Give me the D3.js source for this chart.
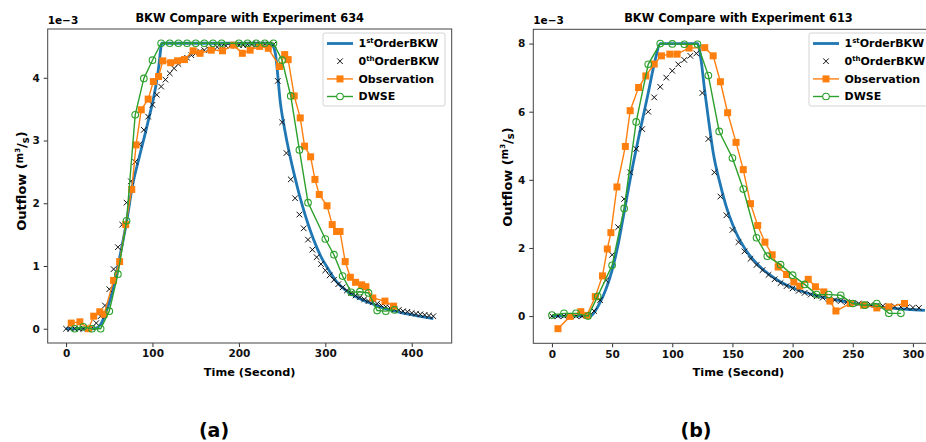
<!DOCTYPE html>
<meta charset="utf-8" />
<style>
  body { margin: 0; background: #fff; }
  text { font-family: "DejaVu Sans", sans-serif; font-weight: bold; }
</style>
<svg width="926" height="442"></svg>
<script src="https://d3js.org/d3.v7.min.js"></script>
<script>
// ---- data (outflow in 1e-3 m^3/s, time in seconds) ----
// (a) experiment 634
var bkw1A_t = [0, 30, 35, 40, 45, 50, 55, 60, 65, 70, 77, 85, 94, 104, 107, 111, 237, 242, 248, 254, 260, 266, 271, 277, 283, 290, 296, 303, 313, 322, 333, 343, 352, 365, 378, 390, 405, 425];
var bkw1A_q = [0, 0, 0.01, 0.07, 0.22, 0.42, 0.68, 1.0, 1.34, 1.7, 2.29, 2.75, 3.25, 3.88, 4.15, 4.55, 4.55, 4.4, 3.6, 3.1, 2.7, 2.35, 2.08, 1.8, 1.55, 1.3, 1.12, 0.96, 0.75, 0.63, 0.53, 0.46, 0.41, 0.34, 0.29, 0.25, 0.21, 0.16];

var bkw0A_t = [0, 5, 10, 15, 20, 25, 30, 35, 40, 45, 50, 55, 60, 65, 70, 75, 80, 85, 90, 95,
  100, 105, 110, 115, 120, 125, 130, 135, 140, 145, 150, 155, 160, 165, 170, 175, 180, 185, 190, 195,
  200, 205, 210, 215, 220, 225, 230, 235, 240, 245, 250, 255, 260, 265, 270, 275, 280, 285, 290, 295,
  300, 305, 310, 315, 320, 325, 330, 335, 340, 345, 350, 355, 360, 365, 370, 375, 380, 385, 390, 395,
  400, 405, 410, 415, 420, 425];
var bkw0A_q = [0, 0, 0, 0, 0, 0, 0.02, 0.09, 0.2, 0.37, 0.63, 0.95, 1.3, 1.66, 2.01, 2.35, 2.66, 2.94, 3.17, 3.38,
  3.57, 3.73, 3.86, 3.97, 4.07, 4.15, 4.22, 4.28, 4.32, 4.36, 4.39, 4.42, 4.44, 4.46, 4.48, 4.49, 4.5, 4.51, 4.51, 4.52,
  4.52, 4.52, 4.53, 4.53, 4.53, 4.53, 4.53, 4.53, 4.53, 3.95, 3.29, 2.8, 2.38, 2.08, 1.82, 1.6, 1.42, 1.26, 1.14, 1.03,
  0.93, 0.85, 0.78, 0.71, 0.66, 0.61, 0.57, 0.53, 0.5, 0.47, 0.44, 0.42, 0.4, 0.37, 0.35, 0.33, 0.31, 0.3, 0.28, 0.27,
  0.25, 0.24, 0.23, 0.22, 0.21, 0.2];

var obsA_t = [6, 16, 26, 32, 39, 44, 55, 62, 69, 76, 81, 87, 95, 101, 107, 112, 121, 129, 137, 147, 155, 168, 181, 194, 204, 213, 224, 234, 247, 253, 257, 264, 271, 276, 283, 288, 293, 302, 308, 313, 317, 323, 329, 335, 342, 347, 355, 369, 379];
var obsA_q = [0.09, 0.11, 0.0, 0.2, 0.27, 0.23, 0.77, 1.07, 1.66, 2.22, 2.93, 3.49, 3.66, 3.94, 4.02, 4.27, 4.24, 4.27, 4.29, 4.43, 4.39, 4.44, 4.43, 4.52, 4.39, 4.44, 4.5, 4.47, 4.18, 4.37, 4.29, 3.71, 3.36, 2.91, 2.74, 2.38, 2.14, 1.96, 1.66, 1.55, 1.55, 1.07, 0.82, 0.74, 0.70, 0.67, 0.49, 0.44, 0.36];

var dwseA_t = [10, 20, 30, 40, 50, 60, 70, 80, 90, 100, 110, 120, 130, 140, 150, 160, 170, 180, 200, 210, 220, 230, 240, 250, 260, 270, 280, 300, 310, 320, 330, 340, 350, 360, 370, 380];
var dwseA_q = [0, 0.03, 0, 0, 0.28, 0.87, 1.72, 3.41, 3.99, 4.28, 4.55, 4.55, 4.55, 4.55, 4.55, 4.55, 4.55, 4.55, 4.55, 4.55, 4.55, 4.55, 4.55, 4.28, 3.71, 2.85, 2.01, 1.43, 1.18, 0.84, 0.58, 0.59, 0.57, 0.29, 0.28, 0.3];

// (b) experiment 613
var bkw1B_t = [0, 30, 33, 36, 40, 45, 50, 55, 60, 66, 73, 80, 86, 90, 121, 124, 127, 130, 134, 140, 145, 150, 155, 160, 165, 170, 175, 180, 190, 200, 210, 220, 235, 250, 265, 280, 295, 310];
var bkw1B_q = [0, 0, 0.02, 0.15, 0.4, 0.8, 1.35, 2.1, 3.05, 4.2, 5.4, 6.55, 7.55, 8.0, 8.0, 7.5, 6.6, 5.8, 4.8, 3.85, 3.2, 2.7, 2.3, 2.0, 1.75, 1.55, 1.38, 1.24, 1.0, 0.83, 0.7, 0.6, 0.48, 0.38, 0.3, 0.24, 0.2, 0.17];

var bkw0B_t = [0, 5, 10, 15, 20, 25, 30, 35, 40, 45, 50, 55, 60, 65, 70, 75, 80, 85, 90, 95,
  100, 105, 110, 115, 120, 125, 130, 135, 140, 145, 150, 155, 160, 165, 170, 175, 180, 185, 190, 195,
  200, 205, 210, 215, 220, 225, 230, 235, 240, 245, 250, 255, 260, 265, 270, 275, 280, 285, 290, 295,
  300, 305];
var bkw0B_q = [0, 0, 0, 0, 0, 0, 0.02, 0.15, 0.47, 1.05, 1.8, 2.61, 3.44, 4.22, 4.91, 5.49, 6.0, 6.42, 6.73, 7.0,
  7.2, 7.39, 7.52, 7.64, 7.71, 6.55, 5.2, 4.22, 3.51, 2.96, 2.53, 2.17, 1.9, 1.68, 1.5, 1.35, 1.21, 1.08, 0.97, 0.88,
  0.81, 0.74, 0.68, 0.63, 0.58, 0.54, 0.5, 0.47, 0.44, 0.41, 0.39, 0.37, 0.35, 0.33, 0.31, 0.3, 0.29, 0.28, 0.27, 0.26,
  0.25, 0.24];

var obsB_t = [5, 15, 24, 29, 36, 42, 46, 49, 54, 61, 65, 72, 78, 85, 91, 98, 104, 114, 127, 134, 140, 146, 153, 159, 165, 171, 177, 183, 188, 195, 201, 206, 213, 219, 226, 231, 236, 248, 259, 270, 280, 293];
var obsB_q = [-0.37, -0.01, 0.13, 0.02, 0.57, 1.18, 1.97, 2.45, 3.79, 4.98, 6.03, 6.71, 7.05, 7.4, 7.64, 7.69, 7.69, 7.87, 7.88, 7.64, 6.88, 5.97, 5.1, 4.3, 3.3, 2.66, 2.17, 1.8, 1.44, 1.22, 1.0, 0.88, 1.08, 0.86, 0.71, 0.44, 0.15, 0.37, 0.32, 0.24, 0.27, 0.37];

var dwseB_t = [0, 10, 20, 30, 38, 50, 60, 70, 80, 90, 100, 110, 121, 130, 139, 150, 159, 170, 179, 190, 200, 210, 220, 230, 240, 250, 260, 270, 280, 290];
var dwseB_q = [0.03, 0.08, 0.08, 0.0, 0.58, 1.49, 3.16, 5.7, 7.39, 8.0, 7.99, 7.98, 7.98, 7.06, 5.42, 4.64, 3.73, 2.3, 1.76, 1.51, 1.2, 0.93, 0.63, 0.63, 0.61, 0.37, 0.32, 0.37, 0.08, 0.08];

var xTicksA = [0, 100, 200, 300, 400];
var yTicksA = [0, 1, 2, 3, 4];
var xTicksB = [0, 50, 100, 150, 200, 250, 300];
var yTicksB = [0, 2, 4, 6, 8];

var titles = ["BKW Compare with Experiment 634", "BKW Compare with Experiment 613"];
var panelTags = ["(a)", "(b)"];

var BLUE = "#1f77b4", ORANGE = "#ff7f0e", GREEN = "#2ca02c";

var svg = d3.select("svg");

function zip(t, q) { return t.map(function (d, i) { return [d, q[i]]; }); }

function drawPanel(p) {
  var g = svg.append("g");
  var x = d3.scaleLinear().domain(p.xDomain).range([p.left, p.right]);
  var y = d3.scaleLinear().domain(p.yDomain).range([p.bottom, p.top]);

  var xa = g.append("g").attr("transform", "translate(0," + p.bottom + ")")
    .call(d3.axisBottom(x).tickValues(p.xTicks).tickFormat(d3.format("d"))
      .tickSize(4).tickPadding(3).tickSizeOuter(0));
  var ya = g.append("g").attr("transform", "translate(" + p.left + ",0)")
    .call(d3.axisLeft(y).tickValues(p.yTicks).tickFormat(d3.format("d"))
      .tickSize(4).tickPadding(4).tickSizeOuter(0));
  [xa, ya].forEach(function (a) {
    a.select(".domain").remove();
    a.selectAll("line").attr("stroke", "#333");
    a.selectAll("text").attr("font-size", 10.5).attr("fill", "#111")
      .attr("font-family", "DejaVu Sans").attr("font-weight", "bold");
  });

  // frame
  g.append("rect").attr("x", p.left).attr("y", p.top)
    .attr("width", p.right - p.left).attr("height", p.bottom - p.top)
    .attr("fill", "none").attr("stroke", "#444").attr("stroke-width", 1);

  var line = d3.line().x(function (d) { return x(d[0]); }).y(function (d) { return y(d[1]); });

  // 1st order BKW
  g.append("path").datum(zip(p.bkw1t, p.bkw1q))
    .attr("d", line.curve(d3.curveMonotoneX)).attr("fill", "none")
    .attr("stroke", BLUE).attr("stroke-width", 2.8);
  line.curve(d3.curveLinear);

  // 0th order BKW (x markers)
  g.append("g").selectAll("path").data(zip(p.bkw0t, p.bkw0q)).enter().append("path")
    .attr("transform", function (d) { return "translate(" + x(d[0]) + "," + y(d[1]) + ")"; })
    .attr("d", "M-2.8,-2.8L2.8,2.8M-2.8,2.8L2.8,-2.8")
    .attr("stroke", "#111").attr("stroke-width", 1);

  // observation
  var obs = zip(p.obst, p.obsq);
  g.append("path").datum(obs).attr("d", line).attr("fill", "none")
    .attr("stroke", ORANGE).attr("stroke-width", 1.4);
  g.append("g").selectAll("rect").data(obs).enter().append("rect")
    .attr("x", function (d) { return x(d[0]) - 3.5; })
    .attr("y", function (d) { return y(d[1]) - 3.5; })
    .attr("width", 7).attr("height", 7).attr("fill", ORANGE);

  // DWSE
  var dw = zip(p.dwt, p.dwq);
  g.append("path").datum(dw).attr("d", line).attr("fill", "none")
    .attr("stroke", GREEN).attr("stroke-width", 1.4);
  g.append("g").selectAll("circle").data(dw).enter().append("circle")
    .attr("cx", function (d) { return x(d[0]); })
    .attr("cy", function (d) { return y(d[1]); })
    .attr("r", 3.3).attr("fill", "none").attr("stroke", GREEN).attr("stroke-width", 1.1);

  // offset text, title, axis labels
  g.append("text").attr("x", p.left).attr("y", p.top - 5).attr("font-size", 10.5).text("1e\u22123");
  g.append("text").attr("x", (p.left + p.right) / 2).attr("y", 22)
    .attr("text-anchor", "middle").attr("font-size", 11.4).text(p.title);
  g.append("text").attr("x", (p.left + p.right) / 2).attr("y", 376)
    .attr("text-anchor", "middle").attr("font-size", 11.3).text("Time (Second)");

  var yl = g.append("text").attr("transform", "translate(" + (p.left - 21.5) + "," + p.ylabelY + ") rotate(-90)")
    .attr("text-anchor", "middle").attr("font-size", 13);
  yl.append("tspan").text("Outflow (");
  yl.append("tspan").attr("font-size", 10).attr("dy", -3.5).text("m");
  yl.append("tspan").attr("font-size", 7).attr("dy", -3).text("3");
  yl.append("tspan").attr("font-size", 13).attr("dy", 6.5).text("/");
  yl.append("tspan").attr("font-size", 10).attr("dy", 2.5).text("s");
  yl.append("tspan").attr("font-size", 13).attr("dy", -2.5).text(")");

  // legend
  var lg = g.append("g").attr("transform", "translate(" + p.legX + "," + p.legY + ")");
  lg.append("rect").attr("width", 122).attr("height", 73).attr("rx", 2)
    .attr("fill", "#fff").attr("fill-opacity", 0.85).attr("stroke", "#d4d4d4").attr("stroke-width", 1);
  var rows = [10.5, 28.2, 45.9, 63.5];
  lg.append("line").attr("x1", 4).attr("x2", 30).attr("y1", rows[0]).attr("y2", rows[0])
    .attr("stroke", BLUE).attr("stroke-width", 2.8);
  lg.append("path").attr("transform", "translate(17," + rows[1] + ")")
    .attr("d", "M-2.8,-2.8L2.8,2.8M-2.8,2.8L2.8,-2.8").attr("stroke", "#111").attr("stroke-width", 1);
  lg.append("line").attr("x1", 4).attr("x2", 30).attr("y1", rows[2]).attr("y2", rows[2])
    .attr("stroke", ORANGE).attr("stroke-width", 1.4);
  lg.append("rect").attr("x", 13.5).attr("y", rows[2] - 3.5).attr("width", 7).attr("height", 7).attr("fill", ORANGE);
  lg.append("line").attr("x1", 4).attr("x2", 30).attr("y1", rows[3]).attr("y2", rows[3])
    .attr("stroke", GREEN).attr("stroke-width", 1.4);
  lg.append("circle").attr("cx", 17).attr("cy", rows[3]).attr("r", 3.3)
    .attr("fill", "#fff").attr("stroke", GREEN).attr("stroke-width", 1.1);

  function legText(row) {
    return lg.append("text").attr("x", 35.5).attr("y", rows[row]).attr("dy", "0.36em").attr("font-size", 11);
  }
  var t1 = legText(0);
  t1.append("tspan").text("1");
  t1.append("tspan").attr("font-size", 7).attr("dy", -4).text("st");
  t1.append("tspan").attr("dy", 4).text("OrderBKW");
  var t0 = legText(1);
  t0.append("tspan").text("0");
  t0.append("tspan").attr("font-size", 7).attr("dy", -4).text("th");
  t0.append("tspan").attr("dy", 4).text("OrderBKW");
  legText(2).text("Observation");
  legText(3).text("DWSE");

  svg.append("text").attr("x", p.tagX).attr("y", 437).attr("text-anchor", "middle")
    .attr("font-family", "Liberation Serif").attr("font-size", 19).text(p.tag);
}

drawPanel({
  left: 47.7, right: 451.7, top: 29, bottom: 343,
  xDomain: [-21.25, 446.25], yDomain: [-0.2275, 4.7775],
  xTicks: xTicksA, yTicks: yTicksA,
  bkw1t: bkw1A_t, bkw1q: bkw1A_q, bkw0t: bkw0A_t, bkw0q: bkw0A_q,
  obst: obsA_t, obsq: obsA_q, dwt: dwseA_t, dwq: dwseA_q,
  title: titles[0], legX: 323, legY: 33, ylabelY: 181, tag: panelTags[0], tagX: 214
});

drawPanel({
  left: 533.3, right: 943.6, top: 29.3, bottom: 343.3,
  xDomain: [-15.5, 325.5], yDomain: [-0.799, 8.419],
  xTicks: xTicksB, yTicks: yTicksB,
  bkw1t: bkw1B_t, bkw1q: bkw1B_q, bkw0t: bkw0B_t, bkw0q: bkw0B_q,
  obst: obsB_t, obsq: obsB_q, dwt: dwseB_t, dwq: dwseB_q,
  title: titles[1], legX: 809, legY: 33, ylabelY: 177, tag: panelTags[1], tagX: 696
});
</script>
